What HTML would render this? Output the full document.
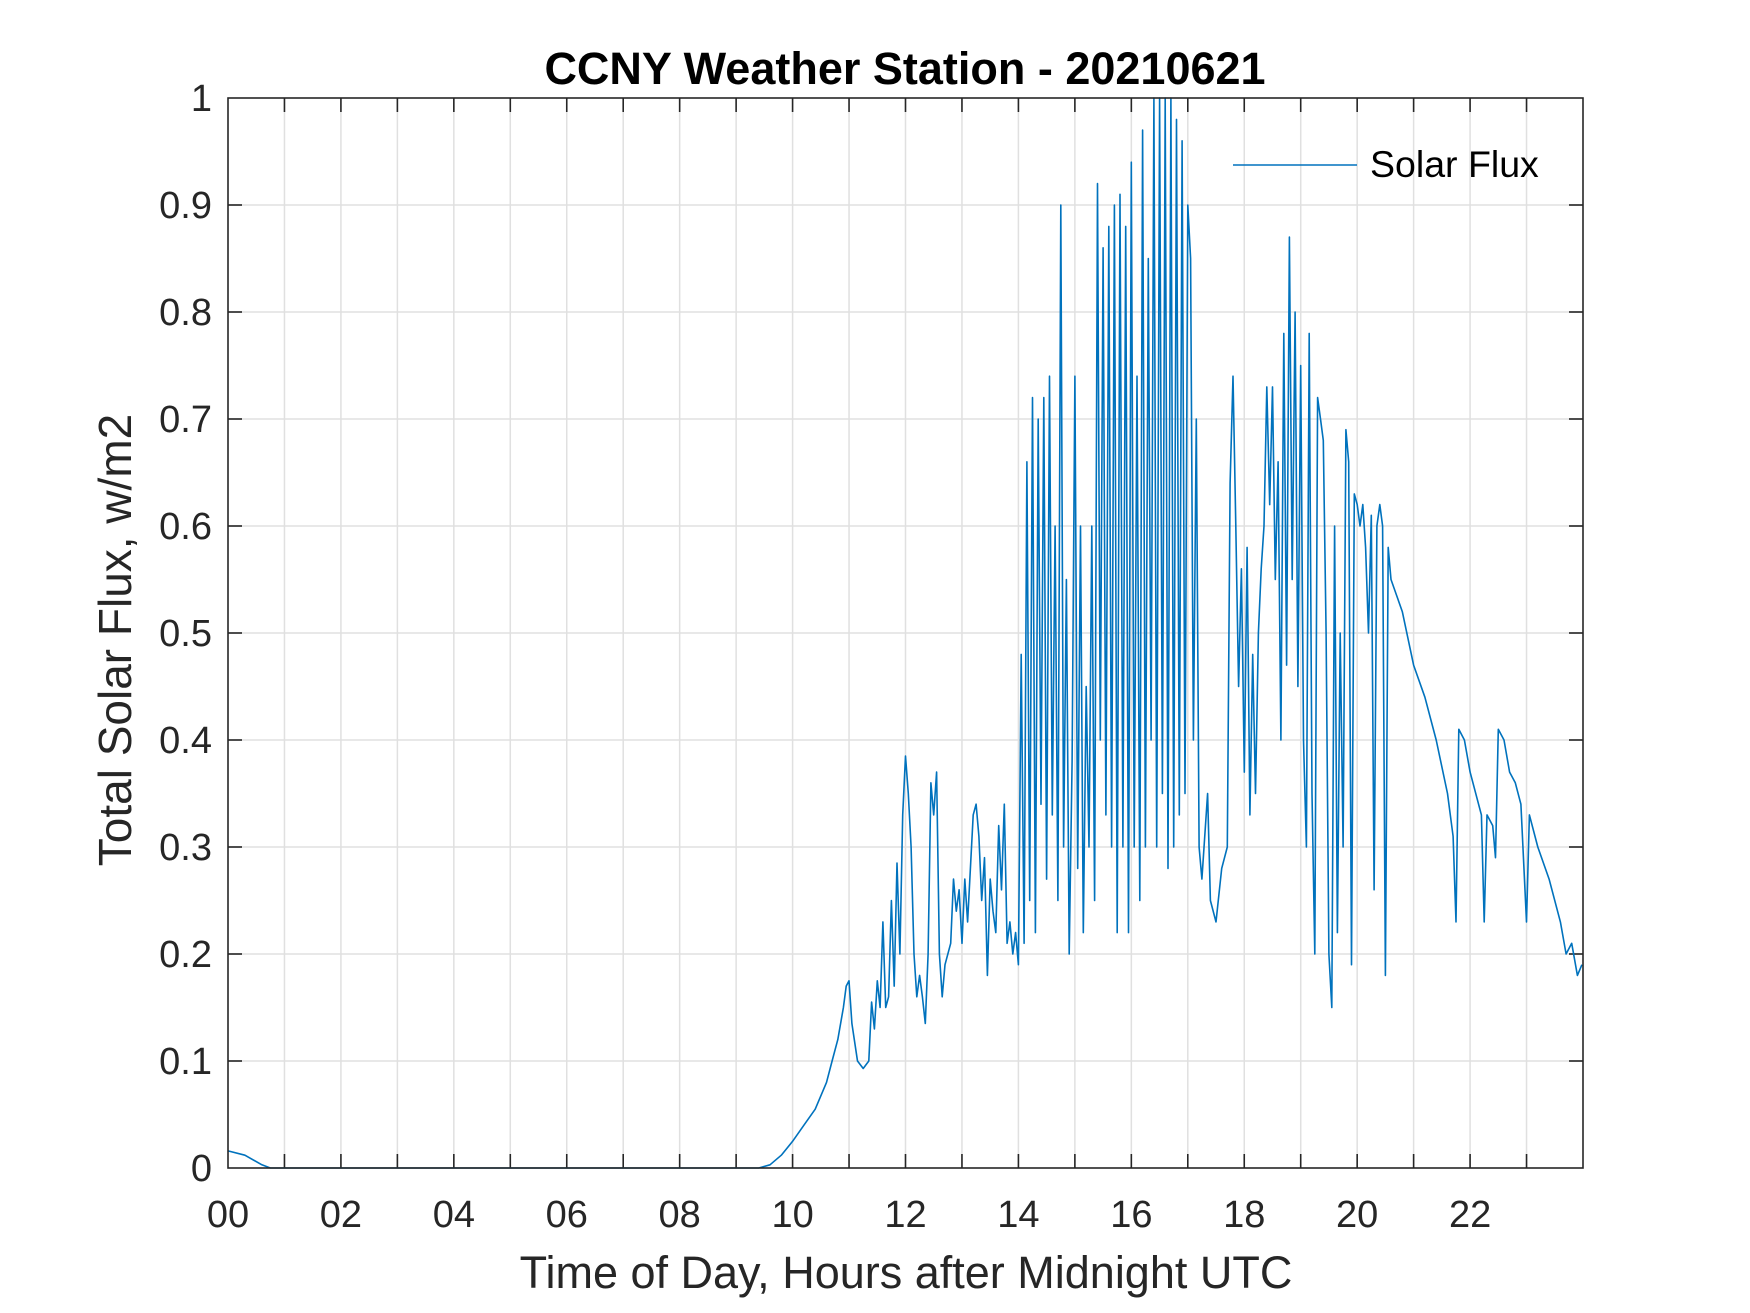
<!DOCTYPE html>
<html><head><meta charset="utf-8"><style>
html,body{margin:0;padding:0;background:#fff;}
svg{display:block;font-family:"Liberation Sans",Arial,sans-serif;}
</style></head><body>
<svg id="chart" width="1750" height="1313" viewBox="0 0 1750 1313">
<rect width="1750" height="1313" fill="#fff"/>
<g id="grid"></g>
<g id="ticks"></g>
<path id="series" fill="none" stroke="#0072BD" stroke-width="1.6" stroke-linejoin="round"/>
<rect x="228" y="98" width="1355" height="1070" fill="none" stroke="#262626" stroke-width="1.6"/>
<text x="905" y="84" text-anchor="middle" font-size="45" font-weight="bold" fill="#000">CCNY Weather Station - 20210621</text>
<text transform="translate(131,640) rotate(-90)" text-anchor="middle" font-size="46" fill="#262626">Total Solar Flux, w/m2</text>
<text x="906" y="1288" text-anchor="middle" font-size="45" fill="#262626">Time of Day, Hours after Midnight UTC</text>
<g>
<line x1="1233" y1="165" x2="1357" y2="165" stroke="#0072BD" stroke-width="1.6"/>
<text x="1370" y="177" font-size="37.5" fill="#000">Solar Flux</text>
</g>
</svg>
<script>
const xTickLabels = ["00","02","04","06","08","10","12","14","16","18","20","22"];
const yTickValues = [0,0.1,0.2,0.3,0.4,0.5,0.6,0.7,0.8,0.9,1];
const yTickLabels = ["0","0.1","0.2","0.3","0.4","0.5","0.6","0.7","0.8","0.9","1"];
const hours = [0,0.3,0.6,0.75,9.4,9.6,9.8,10,10.2,10.4,10.6,10.7,10.8,10.9,10.95,11,11.05,11.15,11.25,11.35,11.4,11.45,11.5,11.55,11.6,11.65,11.7,11.75,11.8,11.85,11.9,11.95,12,12.05,12.1,12.15,12.2,12.25,12.3,12.35,12.4,12.45,12.5,12.55,12.6,12.65,12.7,12.8,12.85,12.9,12.95,13,13.05,13.1,13.15,13.2,13.25,13.3,13.35,13.4,13.45,13.5,13.55,13.6,13.65,13.7,13.75,13.8,13.85,13.9,13.95,14,14.05,14.1,14.15,14.2,14.25,14.3,14.35,14.4,14.45,14.5,14.55,14.6,14.65,14.7,14.75,14.8,14.85,14.9,14.95,15,15.05,15.1,15.15,15.2,15.25,15.3,15.35,15.4,15.45,15.5,15.55,15.6,15.65,15.7,15.75,15.8,15.85,15.9,15.95,16,16.05,16.1,16.15,16.2,16.25,16.3,16.35,16.4,16.45,16.5,16.55,16.6,16.65,16.7,16.75,16.8,16.85,16.9,16.95,17,17.05,17.1,17.15,17.2,17.25,17.35,17.4,17.5,17.6,17.7,17.75,17.8,17.85,17.9,17.95,18,18.05,18.1,18.15,18.2,18.25,18.3,18.35,18.4,18.45,18.5,18.55,18.6,18.65,18.7,18.75,18.8,18.85,18.9,18.95,19,19.05,19.1,19.15,19.2,19.25,19.3,19.35,19.4,19.45,19.5,19.55,19.6,19.65,19.7,19.75,19.8,19.85,19.9,19.95,20,20.05,20.1,20.15,20.2,20.25,20.3,20.35,20.4,20.45,20.5,20.55,20.6,20.8,21,21.2,21.4,21.6,21.7,21.75,21.8,21.9,22,22.2,22.25,22.3,22.4,22.45,22.5,22.6,22.7,22.8,22.9,23,23.05,23.2,23.4,23.6,23.7,23.8,23.9,23.98];
const flux = [0.016,0.012,0.003,0,0,0.003,0.012,0.025,0.04,0.055,0.08,0.1,0.12,0.15,0.17,0.175,0.135,0.1,0.093,0.1,0.155,0.13,0.175,0.15,0.23,0.15,0.16,0.25,0.17,0.285,0.2,0.33,0.385,0.35,0.3,0.2,0.16,0.18,0.16,0.135,0.2,0.36,0.33,0.37,0.2,0.16,0.19,0.21,0.27,0.24,0.26,0.21,0.27,0.23,0.28,0.33,0.34,0.31,0.25,0.29,0.18,0.27,0.24,0.22,0.32,0.26,0.34,0.21,0.23,0.2,0.22,0.19,0.48,0.21,0.66,0.25,0.72,0.22,0.7,0.34,0.72,0.27,0.74,0.33,0.6,0.25,0.9,0.3,0.55,0.2,0.38,0.74,0.28,0.6,0.22,0.45,0.3,0.6,0.25,0.92,0.4,0.86,0.33,0.88,0.3,0.9,0.22,0.91,0.3,0.88,0.22,0.94,0.3,0.74,0.25,0.97,0.3,0.85,0.4,1.0,0.3,1.0,0.35,1.0,0.28,1.0,0.3,0.98,0.33,0.96,0.35,0.9,0.85,0.4,0.7,0.3,0.27,0.35,0.25,0.23,0.28,0.3,0.64,0.74,0.6,0.45,0.56,0.37,0.58,0.33,0.48,0.35,0.5,0.56,0.6,0.73,0.62,0.73,0.55,0.66,0.4,0.78,0.47,0.87,0.55,0.8,0.45,0.75,0.4,0.3,0.78,0.35,0.2,0.72,0.7,0.68,0.5,0.2,0.15,0.6,0.22,0.5,0.3,0.69,0.66,0.19,0.63,0.62,0.6,0.62,0.58,0.5,0.61,0.26,0.6,0.62,0.6,0.18,0.58,0.55,0.52,0.47,0.44,0.4,0.35,0.31,0.23,0.41,0.4,0.37,0.33,0.23,0.33,0.32,0.29,0.41,0.4,0.37,0.36,0.34,0.23,0.33,0.3,0.27,0.23,0.2,0.21,0.18,0.19];

const X0=228, X1=1583, Y0=1168, Y1=98, XMAX=24;
const sx = h => X0 + (h/XMAX)*(X1-X0);
const sy = v => Y0 - v*(Y0-Y1);
const NS="http://www.w3.org/2000/svg";
const svg=document.getElementById('chart');
const grid=document.getElementById('grid');
const ticks=document.getElementById('ticks');
function mk(tag,attrs,parent){const e=document.createElementNS(NS,tag);for(const k in attrs)e.setAttribute(k,attrs[k]);parent.appendChild(e);return e;}
for(let h=1;h<24;h++){
  const x=sx(h);
  const g=mk('line',{x1:x,y1:Y1,x2:x,y2:Y0,stroke:'#e0e0e0','stroke-width':1.5},grid);
  
  
  const t1=mk('line',{x1:x,y1:Y0,x2:x,y2:Y0-14,stroke:'#262626','stroke-width':1.6},ticks);
  
  
  const t2=mk('line',{x1:x,y1:Y1,x2:x,y2:Y1+14,stroke:'#262626','stroke-width':1.6},ticks);
  
  
}
xTickLabels.forEach((lab,i)=>{
  const t=mk('text',{x:sx(i*2),y:1227,'text-anchor':'middle','font-size':38,fill:'#262626'},svg);
  t.textContent=lab;
  
  
});
yTickValues.forEach((v,i)=>{
  const y=sy(v);
  if(v>0&&v<1){
    const g=mk('line',{x1:X0,y1:y,x2:X1,y2:y,stroke:'#e0e0e0','stroke-width':1.5},grid);
    
    
    const t1=mk('line',{x1:X0,y1:y,x2:X0+14,y2:y,stroke:'#262626','stroke-width':1.6},ticks);
    
    
    const t2=mk('line',{x1:X1,y1:y,x2:X1-14,y2:y,stroke:'#262626','stroke-width':1.6},ticks);
    
    
  }
  const t=mk('text',{x:212,y:y+13,'text-anchor':'end','font-size':38,fill:'#262626'},svg);
  t.textContent=yTickLabels[i];
  
  
});
let d='';
hours.forEach((h,i)=>{d+=(i?'L':'M')+sx(h).toFixed(1)+','+sy(flux[i]).toFixed(1);});
document.getElementById('series').setAttribute('d',d);
</script>
</body></html>
